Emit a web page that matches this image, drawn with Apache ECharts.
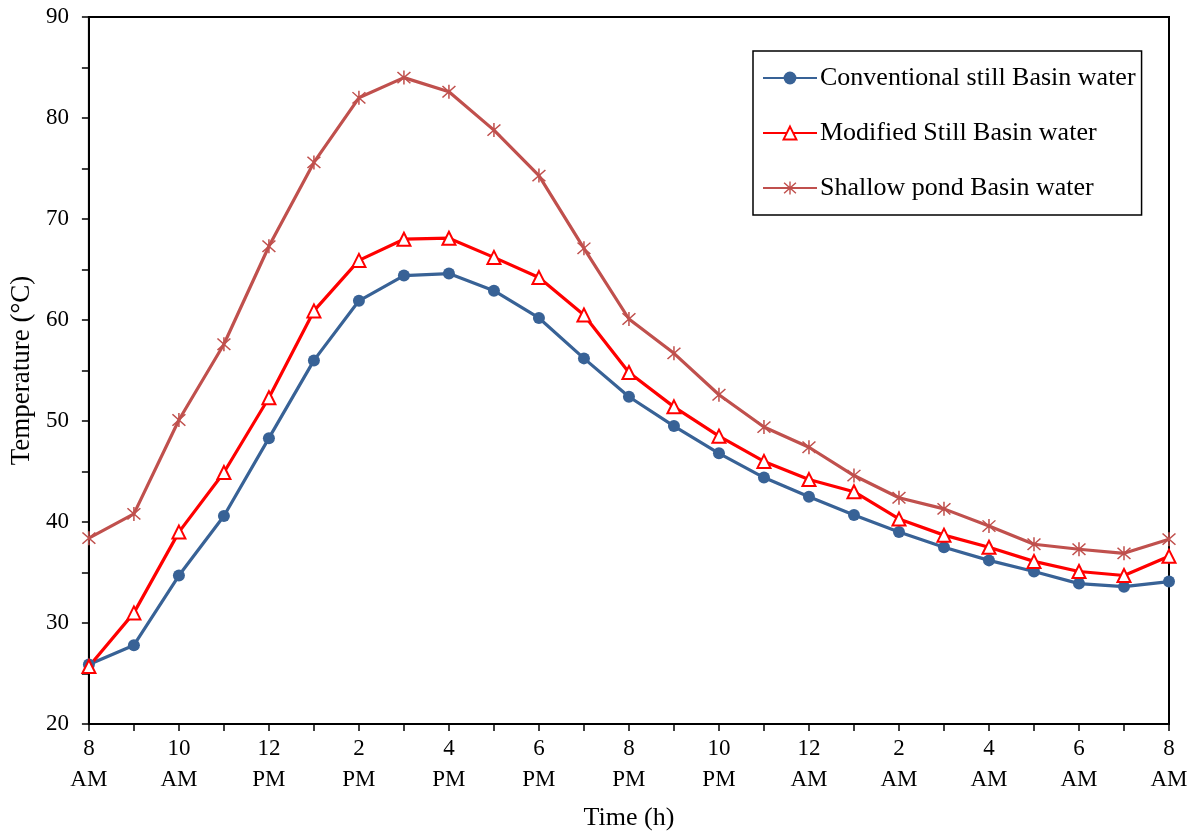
<!DOCTYPE html>
<html>
<head>
<meta charset="utf-8">
<script src="https://cdn.jsdelivr.net/npm/echarts@6/dist/echarts.min.js"></script>
<style>html,body{margin:0;padding:0;background:#fff;}#c{width:1195px;height:836px;}</style>
</head>
<body>
<div id="c"></div>
<script>
const categories = ['8\nAM','9','10\nAM','11','12\nPM','1','2\nPM','3','4\nPM','5','6\nPM','7','8\nPM','9','10\nPM','11','12\nAM','1','2\nAM','3','4\nAM','5','6\nAM','7','8\nAM'];
const conventional = [25.9,27.8,34.7,40.6,48.3,56.0,61.9,64.4,64.6,62.9,60.2,56.2,52.4,49.5,46.8,44.4,42.5,40.7,39.0,37.5,36.2,35.1,33.9,33.6,34.1];
const modified = [25.7,31.0,39.0,44.9,52.3,60.9,65.9,68.0,68.1,66.2,64.2,60.5,54.8,51.4,48.5,46.0,44.2,43.0,40.3,38.7,37.5,36.1,35.1,34.7,36.6];
const shallow = [38.4,40.8,50.1,57.6,67.3,75.6,82.0,84.0,82.6,78.8,74.3,67.1,60.1,56.7,52.6,49.4,47.4,44.6,42.4,41.3,39.6,37.8,37.3,36.9,38.3];
const seriesNames = ['Conventional still Basin water','Modified Still Basin water','Shallow pond Basin water'];

const asterisk = 'path://M9 0L11 0L11 20L9 20Z M0.8 2.6L2.2 1.2L19.2 17.4L17.8 18.8Z M17.8 1.2L19.2 2.6L2.2 18.8L0.8 17.4Z';
const font = '"Liberation Serif", "Times New Roman", serif';

const chart = echarts.init(document.getElementById('c'));
chart.setOption({
  animation: false,
  textStyle: {fontFamily: font},
  grid: {left: 88, right: 26, top: 17, bottom: 110, show: true, borderColor: '#000', borderWidth: 2, backgroundColor: 'transparent'},
  legend: {
    orient: 'vertical', left: 753, top: 51,
    padding: [11, 6, 11, 9],
    itemWidth: 54, itemHeight: 16, itemGap: 23,
    borderColor: '#000', borderWidth: 1.5,
    textStyle: {fontFamily: font, fontSize: 26, color: '#000', lineHeight: 32, padding: [0, 0, 0, -2]},
    data: seriesNames
  },
  xAxis: {
    type: 'category', data: categories, boundaryGap: false,
    name: 'Time (h)', nameLocation: 'middle', nameGap: 81,
    nameTextStyle: {fontFamily: font, fontSize: 26, color: '#000'},
    axisLine: {lineStyle: {color: '#000', width: 2}},
    axisTick: {show: true, inside: false, length: 7, interval: 0, lineStyle: {color: '#000', width: 1.5}},
    axisLabel: {interval: 1, fontFamily: font, fontSize: 23, color: '#000', lineHeight: 31, margin: 9},
    splitLine: {show: false}
  },
  yAxis: {
    type: 'value', min: 20, max: 90, interval: 10,
    name: 'Temperature (°C)', nameLocation: 'middle', nameGap: 51,
    nameTextStyle: {fontFamily: font, fontSize: 27, color: '#000'},
    axisLine: {show: true, lineStyle: {color: '#000', width: 2}},
    axisTick: {show: true, inside: false, length: 7, lineStyle: {color: '#000', width: 1.5}},
    minorTick: {show: true, splitNumber: 2, length: 7, lineStyle: {color: '#000', width: 1.5}},
    axisLabel: {fontFamily: font, fontSize: 23, color: '#000', margin: 20},
    splitLine: {show: false}
  },
  series: [
    {
      name: seriesNames[0], type: 'line', data: conventional,
      symbol: 'circle', symbolSize: 12,
      lineStyle: {color: '#386296', width: 3.2},
      itemStyle: {color: '#386296'}
    },
    {
      name: seriesNames[1], type: 'line', data: modified,
      symbol: 'triangle', symbolSize: 13,
      lineStyle: {color: '#FF0000', width: 3.2},
      itemStyle: {color: '#FFFFFF', borderColor: '#FF0000', borderWidth: 2}
    },
    {
      name: seriesNames[2], type: 'line', data: shallow,
      symbol: asterisk, symbolSize: 14,
      lineStyle: {color: '#C0504D', width: 3.2},
      itemStyle: {color: '#C0504D'}
    }
  ]
});
</script>
</body>
</html>
